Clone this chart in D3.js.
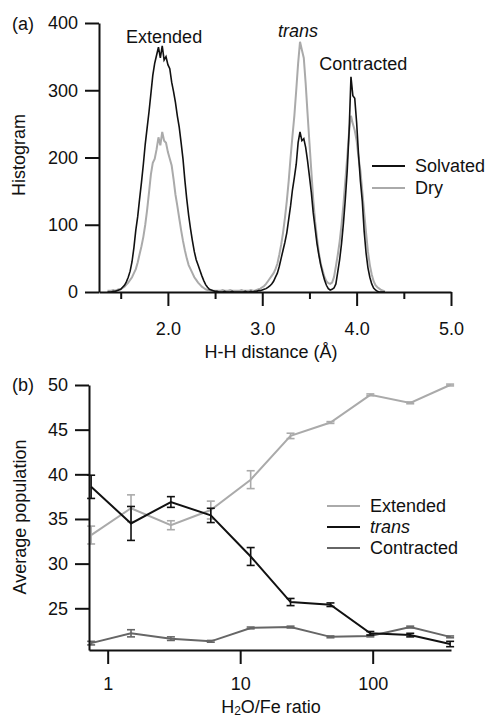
<!DOCTYPE html>
<html>
<head>
<meta charset="utf-8">
<script src="https://cdn.jsdelivr.net/npm/d3@7"></script>
<style>
body { margin: 0; background: #fff; }
svg text { font-family: "Liberation Sans", Arial, sans-serif; font-size: 18px; fill: #111; }
</style>
</head>
<body>
<div id="chart"></div>
<script>
// ---- (a) H-H distance histogram, 0.02 A bins starting at 1.36 ----
var binStart = 1.36, binStep = 0.02
var solvated = [
  0,0,0,1,1,2,3,4,7,10,
  15,22,31,45,66,92,112,138,163,190,
  220,244,268,295,322,340,352,364,348,366,
  345,350,338,332,312,298,282,262,245,222,
  198,166,138,114,94,76,60,48,40,32,
  24,17,11,7,4,3,2,1,1,0,
  0,0,1,0,0,0,1,0,0,0,
  0,0,0,1,0,0,1,0,1,1,
  2,2,3,4,5,7,9,12,16,22,
  28,38,50,62,74,88,108,128,152,170,
  190,222,238,225,228,215,195,172,148,118,
  95,72,55,40,28,18,10,5,3,4,
  6,12,30,48,72,102,138,180,238,320,
  292,288,252,205,165,135,90,58,36,22,
  12,6,3,1,0,0,0,0
]
var dry = [
  2,2,2,3,2,3,4,4,6,8,
  11,14,18,22,28,34,44,56,68,82,
  100,122,148,175,192,198,212,230,218,238,
  225,222,208,198,188,168,145,128,110,92,
  76,62,50,40,34,28,22,18,14,11,
  8,6,4,3,3,2,2,2,2,2,
  2,3,2,2,2,3,2,2,2,2,
  2,3,2,2,2,2,3,2,2,3,
  4,5,7,9,12,16,20,24,28,34,
  42,55,70,88,110,135,165,200,232,262,
  300,340,372,360,348,310,265,222,180,138,
  105,80,58,42,32,22,16,13,12,14,
  22,38,55,75,100,130,165,200,238,262,
  250,240,225,200,180,150,118,88,60,40,
  26,16,10,7,5,3,2,1
]
var histTicks = [0, 100, 200, 300, 400]
var distMajor = [2, 3, 4, 5]
var distMinor = [1.5, 2.5, 3.5, 4.5]

// ---- (b) average population vs H2O/Fe ratio ----
var ratio = [0.75, 1.5, 3, 6, 12, 24, 48, 96, 192, 384]
var extended = [33.2, 36.2, 34.3, 36.0, 39.4, 44.3, 45.8, 48.9, 48.0, 50.0]
var extendedErr = [1.0, 1.5, 0.5, 1.0, 1.0, 0.3, 0.1, 0.1, 0.1, 0.1]
var trans = [38.6, 34.5, 36.9, 35.4, 30.8, 25.7, 25.4, 22.2, 22.0, 21.0]
var transErr = [1.3, 1.9, 0.6, 0.8, 1.0, 0.4, 0.2, 0.2, 0.2, 0.3]
var contracted = [21.1, 22.2, 21.6, 21.3, 22.8, 22.9, 21.8, 21.9, 22.9, 21.8]
var contractedErr = [0.2, 0.4, 0.2, 0.1, 0.1, 0.1, 0.1, 0.1, 0.1, 0.1]
var popTicks = [25, 30, 35, 40, 45, 50]
var ratioTicks = [1, 10, 100]

var black = "#111", light = "#aaa", mid = "#666"

var svg = d3.select("#chart").append("svg")
    .attr("width", 488)
    .attr("height", 720)

function styleAxis(g) {
  g.selectAll("path, line").attr("stroke", black).attr("stroke-width", 2)
  g.selectAll("text").attr("fill", black).style("font-size", "18px")
    .attr("font-family", null)
}

//////////// panel (a) ////////////
var xa = d3.scaleLinear().domain([1.27, 5.0]).range([99, 451])
var ya = d3.scaleLinear().domain([0, 400]).range([292, 23])

var distance = d3.range(solvated.length).map(function(i) { return binStart + binStep * i; })

var histLine = function(vals) {
  return d3.line()
    .x(function(d, i) { return xa(distance[i]); })
    .y(function(d) { return ya(d); })(vals)
}

svg.append("path").attr("d", histLine(dry))
  .attr("fill", "none").attr("stroke", light).attr("stroke-width", 2)
svg.append("path").attr("d", histLine(solvated))
  .attr("fill", "none").attr("stroke", black).attr("stroke-width", 1.6)

svg.append("g")
  .attr("transform", "translate(99,0)")
  .call(d3.axisLeft(ya).tickValues(histTicks).tickSize(14).tickSizeOuter(0).tickPadding(7))
  .call(styleAxis)

svg.append("g")
  .attr("transform", "translate(0,292)")
  .call(d3.axisBottom(xa).tickValues(distMajor).tickSize(14).tickSizeOuter(0)
    .tickPadding(16).tickFormat(d3.format(".1f")))
  .call(styleAxis)

svg.append("g")
  .attr("transform", "translate(0,292)")
  .call(d3.axisBottom(xa).tickValues(distMinor).tickSize(7).tickFormat(""))
  .call(styleAxis)
  .select(".domain").remove()

svg.append("text").attr("x", xa(1.96)).attr("y", ya(370))
  .attr("text-anchor", "middle").text("Extended")
svg.append("text").attr("x", xa(3.38)).attr("y", ya(379))
  .attr("text-anchor", "middle").style("font-style", "italic").text("trans")
svg.append("text").attr("x", xa(4.07)).attr("y", ya(330))
  .attr("text-anchor", "middle").text("Contracted")

svg.append("text").attr("x", 12).attr("y", 30).text("(a)")
svg.append("text")
  .attr("transform", "translate(25,155) rotate(-90)")
  .attr("text-anchor", "middle").text("Histogram")
svg.append("text").attr("x", 271).attr("y", 358)
  .attr("text-anchor", "middle").text("H-H distance (\u00C5)")

var legA = svg.selectAll(".legA").data([["Solvated", black], ["Dry", light]])
  .enter().append("g")
  .attr("transform", function(d, i) { return "translate(372," + (166 + i * 22) + ")"; })
legA.append("line").attr("x1", 0).attr("x2", 33)
  .attr("stroke", function(d) { return d[1]; }).attr("stroke-width", 2)
legA.append("text").attr("x", 43).attr("dy", ".35em").text(function(d) { return d[0]; })

//////////// panel (b) ////////////
var xb = d3.scaleLog().domain([0.7228, 390]).range([89, 451])
var yb = d3.scaleLinear().domain([20.33, 50]).range([650, 385])

var series = [
  { name: "Extended", vals: extended, err: extendedErr, color: light, width: 2 },
  { name: "Contracted", vals: contracted, err: contractedErr, color: mid, width: 2 },
  { name: "trans", vals: trans, err: transErr, color: black, width: 2 }
]

var popLine = d3.line()
  .x(function(d) { return xb(d.r); })
  .y(function(d) { return yb(d.v); })

series.forEach(function(s) {
  var pts = ratio.map(function(r, i) { return { r: r, v: s.vals[i], e: s.err[i] }; })
  svg.append("path").attr("d", popLine(pts))
    .attr("fill", "none").attr("stroke", s.color).attr("stroke-width", s.width)
  var eb = svg.append("g").attr("stroke", s.color).attr("stroke-width", 1.6)
  eb.selectAll(".v").data(pts).enter().append("line")
    .attr("x1", function(d) { return xb(d.r); }).attr("x2", function(d) { return xb(d.r); })
    .attr("y1", function(d) { return yb(d.v - d.e); }).attr("y2", function(d) { return yb(d.v + d.e); })
  eb.selectAll(".t").data(pts).enter().append("line")
    .attr("x1", function(d) { return xb(d.r) - 4; }).attr("x2", function(d) { return xb(d.r) + 4; })
    .attr("y1", function(d) { return yb(d.v + d.e); }).attr("y2", function(d) { return yb(d.v + d.e); })
  eb.selectAll(".b").data(pts).enter().append("line")
    .attr("x1", function(d) { return xb(d.r) - 4; }).attr("x2", function(d) { return xb(d.r) + 4; })
    .attr("y1", function(d) { return yb(d.v - d.e); }).attr("y2", function(d) { return yb(d.v - d.e); })
})

svg.append("g")
  .attr("transform", "translate(89,0)")
  .call(d3.axisLeft(yb).tickValues(popTicks).tickSize(14).tickSizeOuter(0).tickPadding(7))
  .call(styleAxis)

svg.append("g")
  .attr("transform", "translate(0,650)")
  .call(d3.axisBottom(xb).tickValues(ratioTicks).tickSize(14).tickSizeOuter(0)
    .tickPadding(13).tickFormat(d3.format("d")))
  .call(styleAxis)

svg.append("text").attr("x", 12).attr("y", 391).text("(b)")
svg.append("text")
  .attr("transform", "translate(26,517) rotate(-90)")
  .attr("text-anchor", "middle").text("Average population")

var xt = svg.append("text").attr("x", 271).attr("y", 713).attr("text-anchor", "middle")
xt.append("tspan").text("H")
xt.append("tspan").attr("baseline-shift", "-20%").style("font-size", "12px").text("2")
xt.append("tspan").text("O/Fe ratio")

var legB = svg.selectAll(".legB")
  .data([["Extended", light, false], ["trans", black, true], ["Contracted", mid, false]])
  .enter().append("g")
  .attr("transform", function(d, i) { return "translate(327," + (506 + i * 21) + ")"; })
legB.append("line").attr("x1", 0).attr("x2", 33)
  .attr("stroke", function(d) { return d[1]; }).attr("stroke-width", 2)
legB.append("text").attr("x", 43).attr("dy", ".35em")
  .style("font-style", function(d) { return d[2] ? "italic" : "normal"; })
  .text(function(d) { return d[0]; })
</script>
</body>
</html>
